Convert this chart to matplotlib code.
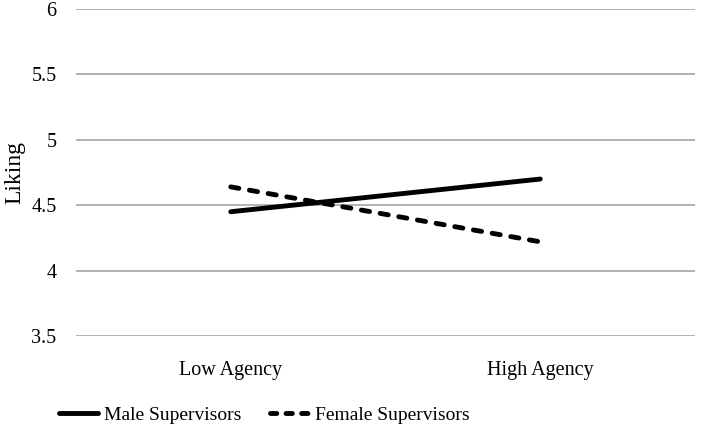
import matplotlib
matplotlib.use("Agg")
from matplotlib import pyplot as plt
from matplotlib.lines import Line2D

categories = ["Low Agency", "High Agency"]
male = [4.45, 4.70]
female = [4.64, 4.22]
yticks = [3.5, 4, 4.5, 5, 5.5, 6]
ytick_labels = ["3.5", "4", "4.5", "5", "5.5", "6"]
series_names = ["Male Supervisors", "Female Supervisors"]

plt.rcParams['font.family'] = ['Liberation Serif', 'DejaVu Serif']

fig = plt.figure(figsize=(7.01, 4.29), dpi=100)
ax = fig.add_axes([76/701, 1-336/429, (695-76)/701, (336-9)/429])

x = [0, 1]
ax.plot(x, male, color="black", linewidth=3.5, solid_capstyle="round")
ax.plot(x, female, color="black", linewidth=3.5, linestyle=(0, (1.7, 2.2)),
        dash_capstyle="round")

ax.set_xlim(-0.5, 1.5)
ax.set_ylim(3.5, 6)
ax.set_yticks(yticks)
ax.set_yticklabels(ytick_labels)
ax.set_xticks(x)
ax.set_xticklabels(categories)
ax.yaxis.grid(True, color="#a6a6a6", linewidth=1.2)
ax.set_axisbelow(True)
for s in ax.spines.values():
    s.set_visible(False)
ax.tick_params(axis="both", length=0, labelsize=14.5)
ax.tick_params(axis="y", pad=14)
ax.tick_params(axis="x", pad=18)
ax.set_ylabel("Liking", fontsize=17)
ax.yaxis.set_label_coords(-0.082, 0.5)

# legend keys: shorter dash so three whole dashes fit in the key
handles = [
    Line2D([], [], color="black", linewidth=3.5, solid_capstyle="round"),
    Line2D([], [], color="black", linewidth=3.5, linestyle=(0, (1.3, 1.9)),
           dash_capstyle="round"),
]
ax.legend(handles, series_names, loc="upper left", bbox_to_anchor=(-0.04, -0.19),
          ncol=2, frameon=False, fontsize=14, handlelength=2.0,
          handletextpad=0.3, columnspacing=1.5, borderaxespad=0)

fig.savefig("out.png", dpi=100)
